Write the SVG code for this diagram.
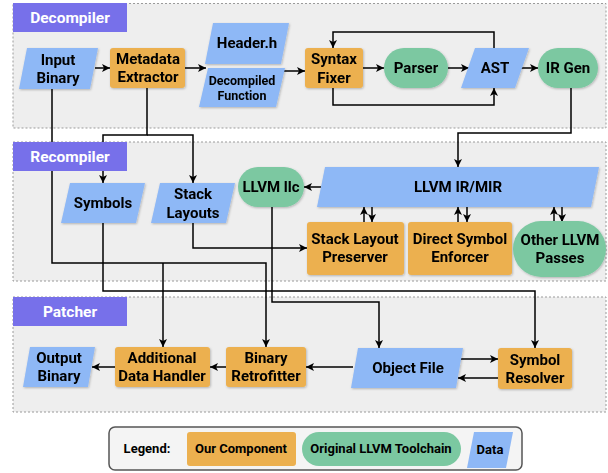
<svg xmlns="http://www.w3.org/2000/svg" width="608" height="473" viewBox="0 0 608 473">
<style>
.panel{fill:#eeeeee;stroke:#9a9a9a;stroke-width:1;stroke-dasharray:2 2}
.ptitle{fill:#7770ea}
.ptxt{font-family:Roboto,"Liberation Sans",sans-serif;font-weight:bold;font-size:15.5px;fill:#ffffff;text-anchor:middle;dominant-baseline:central}
.comp{fill:#ecb04f}
.tool{fill:#7bc8a1}
.data{fill:#8eb8f6}
.t{font-family:Roboto,"Liberation Sans",sans-serif;font-weight:bold;font-size:15px;fill:#000;text-anchor:middle;dominant-baseline:central}
.s{font-size:12.5px}
.lg{font-size:13px}
.e{fill:none;stroke:#000;stroke-width:1.5}
.a{marker-end:url(#arr)}
</style>
<defs>
<marker id="arr" markerWidth="9" markerHeight="8" refX="8" refY="4" orient="auto" markerUnits="userSpaceOnUse">
<path d="M0,0 L8,4 L0,8 L2,4 z" fill="#000"/>
</marker>
<filter id="sh" x="-10%" y="-10%" width="130%" height="140%">
<feDropShadow dx="0.8" dy="1" stdDeviation="0.8" flood-color="#000" flood-opacity="0.25"/>
</filter>
</defs>

<g id="panels">
<rect class="panel" x="13" y="3.5" width="593" height="124.5"/>
<rect class="panel" x="13" y="142" width="593" height="139"/>
<rect class="panel" x="13" y="297" width="593" height="115"/>
</g>

<g id="connectors">
<path class="e a" d="M95,68 H110"/>
<path class="e a" d="M185,68 H206"/>
<path class="e a" d="M284,71 H305"/>
<path class="e a" d="M363,68 H384"/>
<path class="e a" d="M448,68 H469"/>
<path class="e a" d="M521,68 H538"/>
<path class="e a" d="M494,48 V32 H333 V48"/>
<path class="e a" d="M333,88 V105 H494 V88"/>
<path class="e a" d="M571,88 V133 H458 V167"/>
<path class="e a" d="M147,88 V135 H103 V183"/>
<path class="e a" d="M147,135 H193 V183"/>
<path class="e a" d="M52,89 V263 H266 V347"/>
<path class="e a" d="M163,263 V347"/>
<path class="e a" d="M103,223 V291 H535 V348"/>
<path class="e a" d="M272,207 V302 H379 V348"/>
<path class="e a" d="M193,223 V248 H307"/>
<path class="e a" d="M321,187 H304"/>
<path class="e a" d="M364,222 V207"/>
<path class="e a" d="M372,207 V222"/>
<path class="e a" d="M458,222 V207"/>
<path class="e a" d="M467,207 V222"/>
<path class="e a" d="M554,222 V207"/>
<path class="e a" d="M562,207 V222"/>
<path class="e a" d="M353,367 H306"/>
<path class="e a" d="M226,367 H210"/>
<path class="e a" d="M115,367 H92"/>
<path class="e a" d="M461,359 H498"/>
<path class="e a" d="M498,378 H458"/>
</g>

<g id="panel-titles">
<rect class="ptitle" x="13" y="3" width="114" height="29"/>
<text class="ptxt" x="70" y="17.5">Decompiler</text>
<rect class="ptitle" x="13" y="142" width="114" height="29"/>
<text class="ptxt" x="70" y="156.5">Recompiler</text>
<rect class="ptitle" x="13" y="297" width="114" height="29"/>
<text class="ptxt" x="70" y="311.5">Patcher</text>
</g>

<g id="input-binary" filter="url(#sh)">
<polygon class="data" points="27,48 98,48 90,89 19,89"/>
<text class="t" x="58" y="60">Input</text>
<text class="t" x="58" y="78">Binary</text>
</g>
<g id="metadata-extractor" filter="url(#sh)">
<rect class="comp" x="110" y="48" width="75" height="40" rx="3"/>
<text class="t" x="148" y="59">Metadata</text>
<text class="t" x="148" y="77">Extractor</text>
</g>
<g id="header-h" filter="url(#sh)">
<polygon class="data" points="213,23 289,23 281,64 205,64"/>
<text class="t" x="247" y="43">Header.h</text>
</g>
<g id="decompiled-function" filter="url(#sh)">
<polygon class="data" points="208,68 285,68 276,107 199,107"/>
<text class="t s" x="242" y="80">Decompiled</text>
<text class="t s" x="242" y="95">Function</text>
</g>
<g id="syntax-fixer" filter="url(#sh)">
<rect class="comp" x="305" y="48" width="58" height="40" rx="3"/>
<text class="t" x="334" y="59">Syntax</text>
<text class="t" x="334" y="78">Fixer</text>
</g>
<g id="parser" filter="url(#sh)">
<rect class="tool" x="384" y="48" width="64" height="40" rx="20"/>
<text class="t" x="416" y="68">Parser</text>
</g>
<g id="ast" filter="url(#sh)">
<polygon class="data" points="475,48 529,48 515,88 461,88"/>
<text class="t" x="495" y="68">AST</text>
</g>
<g id="ir-gen" filter="url(#sh)">
<rect class="tool" x="538" y="48" width="60" height="40" rx="20"/>
<text class="t" x="568" y="68">IR Gen</text>
</g>

<g id="symbols" filter="url(#sh)">
<polygon class="data" points="70,183 145,183 136,223 61,223"/>
<text class="t" x="103" y="203">Symbols</text>
</g>
<g id="stack-layouts" filter="url(#sh)">
<polygon class="data" points="160,183 235,183 226,223 151,223"/>
<text class="t" x="193" y="194">Stack</text>
<text class="t" x="193" y="213">Layouts</text>
</g>
<g id="llvm-llc" filter="url(#sh)">
<rect class="tool" x="238" y="167" width="66" height="40" rx="20"/>
<text class="t" x="271" y="187">LLVM llc</text>
</g>
<g id="llvm-ir-mir" filter="url(#sh)">
<polygon class="data" points="325,167 599,167 591,207 317,207"/>
<text class="t" x="458" y="187">LLVM IR/MIR</text>
</g>
<g id="stack-layout-preserver" filter="url(#sh)">
<rect class="comp" x="307" y="222" width="97" height="53" rx="3"/>
<text class="t" x="355" y="239">Stack Layout</text>
<text class="t" x="355" y="257">Preserver</text>
</g>
<g id="direct-symbol-enforcer" filter="url(#sh)">
<rect class="comp" x="408" y="222" width="104" height="53" rx="3"/>
<text class="t" x="460" y="239">Direct Symbol</text>
<text class="t" x="460" y="257">Enforcer</text>
</g>
<g id="other-llvm-passes" filter="url(#sh)">
<rect class="tool" x="513" y="221" width="93" height="56" rx="28"/>
<text class="t" x="560" y="240">Other LLVM</text>
<text class="t" x="560" y="258">Passes</text>
</g>

<g id="output-binary" filter="url(#sh)">
<polygon class="data" points="30,347 95,347 88,387 23,387"/>
<text class="t" x="59" y="358">Output</text>
<text class="t" x="59" y="376">Binary</text>
</g>
<g id="additional-data-handler" filter="url(#sh)">
<rect class="comp" x="115" y="347" width="95" height="40" rx="3"/>
<text class="t" x="162" y="358">Additional</text>
<text class="t" x="162" y="376">Data Handler</text>
</g>
<g id="binary-retrofitter" filter="url(#sh)">
<rect class="comp" x="226" y="347" width="80" height="40" rx="3"/>
<text class="t" x="266" y="358">Binary</text>
<text class="t" x="266" y="376">Retrofitter</text>
</g>
<g id="object-file" filter="url(#sh)">
<polygon class="data" points="358,348 463,348 456,388 351,388"/>
<text class="t" x="408" y="368">Object File</text>
</g>
<g id="symbol-resolver" filter="url(#sh)">
<rect class="comp" x="498" y="348" width="74" height="41" rx="3"/>
<text class="t" x="535" y="360">Symbol</text>
<text class="t" x="535" y="378">Resolver</text>
</g>

<g id="legend">
<rect x="109" y="427" width="413" height="43" rx="6" fill="#f4f4f4" stroke="#555" stroke-width="1.5"/>
<text class="t lg" x="147" y="448">Legend:</text>
<rect class="comp" x="187" y="432" width="109" height="34" rx="3"/>
<text class="t lg" x="241" y="448">Our Component</text>
<rect class="tool" x="302" y="432" width="159" height="34" rx="17"/>
<text class="t lg" x="381" y="448">Original LLVM Toolchain</text>
<polygon class="data" points="474,432 513,432 506,468 467,468"/>
<text class="t lg" x="490" y="449">Data</text>
</g>
</svg>
